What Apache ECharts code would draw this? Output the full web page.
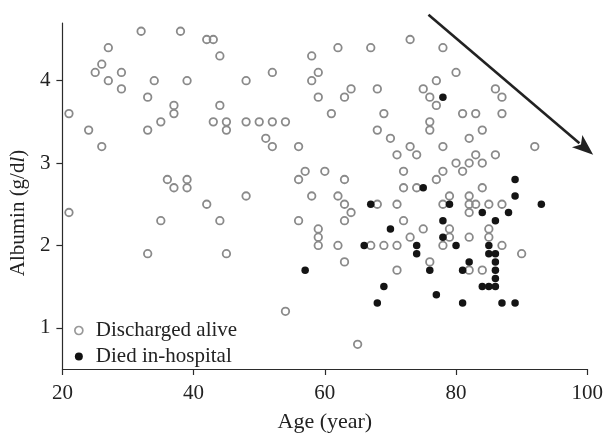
<!DOCTYPE html>
<html>
<head>
<meta charset="utf-8">
<script src="https://cdn.jsdelivr.net/npm/echarts@6/dist/echarts.min.js"></script>
<style>
  html, body { margin: 0; padding: 0; background: #fff; }
  #main { width: 606px; height: 438px; }
</style>
</head>
<body>
<div id="main"></div>
<script>
// discharged alive: age / albumin
var aliveAge = [21,21,24,25,26,26,27,27,29,29,
  32,33,33,33,34,35,35,36,37,37,37,38,39,39,39,
  42,43,42,44,44,43,45,45,44,45,
  48,48,48,50,52,54,52,51,52,54,56,57,56,56,
  58,59,58,59,58,59,59,59,60,61,
  62,63,64,63,62,63,64,63,62,63,65,
  67,68,69,68,70,68,67,69,71,71,71,
  73,71,73,74,72,72,74,72,75,73,
  75,76,77,76,76,77,78,78,78,77,79,78,79,79,78,76,
  80,81,83,84,82,80,81,82,83,84,86,84,82,82,83,82,85,87,85,85,82,87,82,84,
  86,87,87,92,90];
var aliveAlb = [3.6,2.4,3.4,4.1,4.2,3.2,4.4,4.0,4.1,3.9,
  4.6,3.8,3.4,1.9,4.0,3.5,2.3,2.8,2.7,3.7,3.6,4.6,4.0,2.8,2.7,
  4.5,4.5,2.5,4.3,3.7,3.5,3.5,3.4,2.3,1.9,
  4.0,3.5,2.6,3.5,3.5,3.5,4.1,3.3,3.2,1.2,3.2,2.9,2.8,2.3,
  4.3,4.1,4.0,3.8,2.6,2.2,2.1,2.0,2.9,3.6,
  4.4,3.8,3.9,2.8,2.6,2.5,2.4,2.3,2.0,1.8,0.8,
  4.4,3.9,3.6,3.4,3.3,2.5,2.0,2.0,2.0,2.5,1.7,
  4.5,3.1,3.2,3.1,2.9,2.7,2.7,2.3,2.2,2.1,
  3.9,3.8,3.7,3.5,3.4,4.0,4.4,3.2,2.9,2.8,2.6,2.5,2.2,2.1,2.0,1.8,
  4.1,3.6,3.6,3.4,3.3,3.0,2.9,3.0,3.1,3.0,3.1,2.7,2.6,2.5,2.5,2.4,2.5,2.5,2.2,2.1,2.1,2.0,1.7,1.7,
  3.9,3.8,3.6,3.2,1.9];

// died in-hospital: age / albumin
var diedAge = [57,67,66,70,68,69,74,74,75,77,76,78,79,78,78,80,81,82,81,
  84,86,88,89,89,93,85,85,86,86,86,86,84,85,86,87,89];
var diedAlb = [1.7,2.5,2.0,2.2,1.3,1.5,2.0,1.9,2.7,1.4,1.7,3.8,2.5,2.3,2.1,2.0,1.7,1.8,1.3,
  2.4,2.3,2.4,2.8,2.6,2.5,2.0,1.9,1.9,1.8,1.7,1.6,1.5,1.5,1.5,1.3,1.3];

var xTicks = [20, 40, 60, 80, 100];
var yTicks = [1, 2, 3, 4];
var seriesNames = ['Discharged alive', 'Died in-hospital'];

// arrow annotation, in data units (start, end)
var arrowFrom = [75.8, 4.8];
var arrowTo = [100.9, 3.1];

function zip(a, b) {
  var out = [];
  for (var i = 0; i < a.length; i++) out.push([a[i], b[i]]);
  return out;
}

var FONT = '"Liberation Serif", "DejaVu Serif", serif';
var INK = '#2b2b2b';

var chart = echarts.init(document.getElementById('main'), null, { renderer: 'canvas' });

chart.setOption({
  animation: false,
  backgroundColor: '#fff',
  grid: { left: 62, right: 16, top: 23, bottom: 64 },
  textStyle: { fontFamily: FONT },
  legend: {
    orient: 'vertical',
    left: 69,
    top: 315,
    itemWidth: 8,
    itemHeight: 8,
    itemGap: 5,
    textStyle: { fontFamily: FONT, fontSize: 21, color: '#222', lineHeight: 21, padding: [0, 0, 0, 8] },
    data: [
      { name: seriesNames[0], icon: 'circle', itemStyle: { color: '#fff', borderColor: '#999', borderWidth: 1.7 } },
      { name: seriesNames[1], icon: 'circle', itemStyle: { color: '#111', borderWidth: 0 } }
    ]
  },
  xAxis: {
    type: 'value',
    min: 20, max: 100, interval: 20,
    name: 'Age (year)',
    nameLocation: 'middle',
    nameGap: 42,
    nameTextStyle: { fontFamily: FONT, fontSize: 22, color: '#222' },
    axisLine: { show: true, lineStyle: { color: INK, width: 1.2 } },
    axisTick: { show: true, length: 6, lineStyle: { color: INK, width: 1.2 } },
    axisLabel: { fontFamily: FONT, fontSize: 21, color: '#222', margin: 14, customValues: xTicks },
    splitLine: { show: false }
  },
  yAxis: {
    type: 'value',
    min: 0.5, max: 4.7,
    name: 'Albumin (g/d{i|l})',
    nameLocation: 'middle',
    nameGap: 25,
    nameRotate: 90,
    nameTextStyle: {
      fontFamily: FONT, fontSize: 21, color: '#222',
      padding: [0, 34, 0, 0],
      rich: { i: { fontFamily: FONT, fontSize: 21, fontStyle: 'italic', color: '#222' } }
    },
    axisLine: { show: true, lineStyle: { color: INK, width: 1.2 } },
    axisTick: { show: true, length: 6, lineStyle: { color: INK, width: 1.2 }, customValues: yTicks },
    axisLabel: { fontFamily: FONT, fontSize: 21, color: '#222', margin: 12, customValues: yTicks },
    splitLine: { show: false }
  },
  series: [
    {
      name: seriesNames[0],
      type: 'scatter',
      symbol: 'circle',
      symbolSize: 7.5,
      data: zip(aliveAge, aliveAlb),
      itemStyle: { color: 'rgba(255,255,255,0)', borderColor: '#8a8a8a', borderWidth: 1.8, opacity: 1 },
      emphasis: { disabled: true },
      z: 2
    },
    {
      name: seriesNames[1],
      type: 'scatter',
      symbol: 'circle',
      symbolSize: 7.5,
      data: zip(diedAge, diedAlb),
      itemStyle: { color: '#141414', opacity: 1 },
      emphasis: { disabled: true },
      z: 3
    }
  ]
});

// arrow drawn from data coordinates
var p0 = chart.convertToPixel({ gridIndex: 0 }, arrowFrom);
var p1 = chart.convertToPixel({ gridIndex: 0 }, arrowTo);
var dx = p1[0] - p0[0], dy = p1[1] - p0[1];
var len = Math.sqrt(dx * dx + dy * dy);
var ux = dx / len, uy = dy / len;
var headLen = 21, headHalf = 8;
var bx = p1[0] - ux * headLen, by = p1[1] - uy * headLen;

chart.setOption({
  graphic: [
    {
      type: 'line',
      shape: { x1: p0[0], y1: p0[1], x2: bx + ux * 3, y2: by + uy * 3 },
      style: { stroke: '#222', lineWidth: 2.6 },
      z: 10
    },
    {
      type: 'polygon',
      shape: {
        points: [
          [p1[0], p1[1]],
          [bx - uy * headHalf, by + ux * headHalf],
          [bx + ux * 5, by + uy * 5],
          [bx + uy * headHalf, by - ux * headHalf]
        ]
      },
      style: { fill: '#222' },
      z: 10
    }
  ]
});
</script>
</body>
</html>
